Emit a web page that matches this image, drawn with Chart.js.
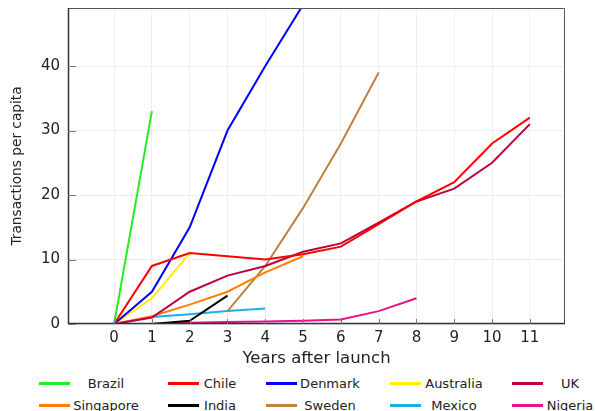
<!DOCTYPE html>
<html>
<head>
<meta charset="utf-8">
<script src="https://cdn.jsdelivr.net/npm/chart.js@4"></script>
<style>
  html, body { margin: 0; padding: 0; background: #fff; }
  #wrap { position: relative; width: 595px; height: 411px; overflow: hidden; font-family: "DejaVu Sans", sans-serif; }
  #chartBox { position: absolute; left: 0; top: 0; width: 595px; height: 372px; }
  .lg-line { position: absolute; height: 3px; width: 31px; }
  .lg-text { position: absolute; font-size: 13px; line-height: 13px; color: #222; transform: translate(-50%, -50%); white-space: nowrap; }
</style>
</head>
<body>
<div id="wrap">
  <div id="chartBox"><canvas id="c"></canvas></div>
  <div id="legend"></div>
</div>
<script>
// ---- data ----
const countries = ["Brazil","Chile","Denmark","Australia","UK","Singapore","India","Sweden","Mexico","Nigeria"];
const brazilX = [0, 1];            const brazilY = [0, 33];
const chileX = [0,1,2,3,4,5,6,7,8,9,10,11];
const chileY = [0,9,11,10.5,10,10.8,12,15.5,19,22,28,32];
const denmarkX = [0,1,2,3,4,5];    const denmarkY = [0,5,15,30,40,49.5];
const australiaX = [0,1,2];        const australiaY = [0,4,11];
const ukX = [0,1,2,3,4,5,6,7,8,9,10,11];
const ukY = [0,1,5,7.5,9,11.2,12.5,15.7,19,21,25,31];
const singaporeX = [0,1,2,3,4,5];  const singaporeY = [0,1.2,3,5,8,10.5];
const indiaX = [1,2,3];            const indiaY = [0,0.5,4.4];
const swedenX = [3,4,5,6,7];       const swedenY = [2,9,18,28,39];
const mexicoX = [0,1,2,3,4];       const mexicoY = [0,1.1,1.5,2,2.4];
const nigeriaX = [0,1,2,3,4,5,6,7,8]; const nigeriaY = [0,0,0.2,0.3,0.4,0.5,0.7,2,4];
const xTickLabels = [0,1,2,3,4,5,6,7,8,9,10,11];
const yTickLabels = [0,10,20,30,40];

// ---- styles ----
const colors = ["#22ee22","#ff0000","#0000ff","#ffee00","#bf0040","#ff8000","#000000","#bf8040","#18b0e8","#ec108c"];
const seriesX = [brazilX, chileX, denmarkX, australiaX, ukX, singaporeX, indiaX, swedenX, mexicoX, nigeriaX];
const seriesY = [brazilY, chileY, denmarkY, australiaY, ukY, singaporeY, indiaY, swedenY, mexicoY, nigeriaY];

const datasets = countries.map((name, i) => ({
  label: name,
  data: seriesX[i].map((x, k) => ({x: x, y: seriesY[i][k]})),
  borderColor: colors[i],
  backgroundColor: colors[i],
  borderWidth: 2,
  pointRadius: 0,
  tension: 0,
  fill: false
}));

const frame = {
  id: 'frame',
  afterDatasetsDraw(chart) {
    const {ctx, chartArea: a, scales} = chart;
    ctx.save();
    ctx.strokeStyle = '#555';
    ctx.lineWidth = 1;
    ctx.beginPath();
    ctx.moveTo(a.left, a.top + 0.5); ctx.lineTo(a.right - 0.5, a.top + 0.5); ctx.lineTo(a.right - 0.5, a.bottom);
    ctx.stroke();
    ctx.strokeStyle = '#333';
    ctx.lineWidth = 1.5;
    ctx.beginPath();
    ctx.moveTo(a.left + 0.5, a.top); ctx.lineTo(a.left + 0.5, a.bottom);
    ctx.moveTo(a.left, a.bottom - 0.5); ctx.lineTo(a.right, a.bottom - 0.5);
    ctx.stroke();
    ctx.strokeStyle = '#777';
    ctx.lineWidth = 1;
    ctx.beginPath();
    xTickLabels.forEach(v => { const px = Math.round(scales.x.getPixelForValue(v)) + 0.5; ctx.moveTo(px, a.bottom); ctx.lineTo(px, a.bottom - 5); });
    yTickLabels.forEach(v => { const py = Math.round(scales.y.getPixelForValue(v)) + 0.5; ctx.moveTo(a.left, py); ctx.lineTo(a.left + 8, py); });
    ctx.stroke();
    ctx.restore();
  }
};

const chart = new Chart(document.getElementById('c'), {
  type: 'line',
  data: { datasets },
  options: {
    responsive: true,
    maintainAspectRatio: false,
    animation: false,
    layout: { padding: { top: 8, right: 30, left: 0, bottom: 0 } },
    plugins: { legend: { display: false }, tooltip: { enabled: false } },
    scales: {
      x: {
        type: 'linear',
        min: -1.22, max: 11.93,
        afterBuildTicks: s => { s.ticks = xTickLabels.map(v => ({value: v})); },
        afterFit: s => { s.height = 48; s.paddingLeft = 0; s.paddingRight = 0; },
        ticks: { color: '#222', font: { family: 'DejaVu Sans', size: 15 }, padding: 5, maxRotation: 0, autoSkip: false },
        grid: { color: '#eeeeee', drawTicks: false },
        border: { display: false },
        title: { display: true, text: 'Years after launch', color: '#222', font: { family: 'DejaVu Sans', size: 16.5 }, padding: { top: 0, bottom: 3 } }
      },
      y: {
        type: 'linear',
        min: 0, max: 49,
        afterBuildTicks: s => { s.ticks = yTickLabels.map(v => ({value: v})); },
        afterFit: s => { s.width = 68; s.paddingTop = 0; s.paddingBottom = 0; },
        ticks: { color: '#222', font: { family: 'DejaVu Sans', size: 15 }, padding: 8 },
        grid: { color: '#eeeeee', drawTicks: false },
        border: { display: false },
        title: { display: true, text: 'Transactions per capita', color: '#222', font: { family: 'DejaVu Sans', size: 13.7 }, padding: { top: 9, bottom: 0 } }
      }
    }
  },
  plugins: [frame]
});

// ---- legend (grid like the reference) ----
const lgLineX = [39, 168, 266, 390, 512];
const lgTextCX = [106, 220, 330, 454, 570];
const lgRowY = [383, 405];
const legend = document.getElementById('legend');
countries.forEach((name, i) => {
  const col = i % 5, row = Math.floor(i / 5);
  const ln = document.createElement('div');
  ln.className = 'lg-line';
  ln.style.left = lgLineX[col] + 'px';
  ln.style.top = (lgRowY[row] - 1.5) + 'px';
  ln.style.background = colors[i];
  legend.appendChild(ln);
  const tx = document.createElement('div');
  tx.className = 'lg-text';
  tx.textContent = name;
  tx.style.left = lgTextCX[col] + 'px';
  tx.style.top = lgRowY[row] + 'px';
  legend.appendChild(tx);
});
</script>
</body>
</html>
